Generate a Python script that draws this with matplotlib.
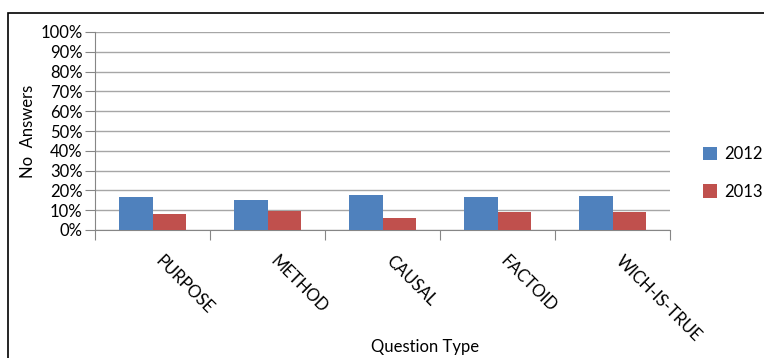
import numpy as np
import matplotlib.pyplot as plt
from matplotlib.patches import Rectangle

categories = ["PURPOSE", "METHOD", "CAUSAL", "FACTOID", "WICH-IS-TRUE"]
years = ["2012", "2013"]
values_2012 = [16.8, 15.3, 17.8, 16.8, 17.3]
values_2013 = [8.2, 9.7, 6.2, 9.2, 9.2]
yticks = [0, 10, 20, 30, 40, 50, 60, 70, 80, 90, 100]

plt.rcParams['font.family'] = ['Lato', 'DejaVu Sans']

fig = plt.figure(figsize=(7.64, 3.58), dpi=100)
ax = fig.add_axes([95 / 764, 1 - 230 / 358, 575 / 764, 198 / 358])

x = np.arange(len(categories))
w = 0.287
b1 = ax.bar(x - w / 2, values_2012, w, color='#4f81bd', label=years[0], zorder=3)
b2 = ax.bar(x + w / 2, values_2013, w, color='#c0504d', label=years[1], zorder=3)

ax.set_xlim(-0.5, len(categories) - 0.5)
ax.set_ylim(0, 100)
ax.set_yticks(yticks)
ax.set_yticklabels([f"{t}%" for t in yticks], fontsize=12)
ax.yaxis.grid(True, color='#a6a6a6', linewidth=1, zorder=0)

ax.set_xticks(np.arange(len(categories) + 1) - 0.5)
ax.set_xticklabels([])
ax.tick_params(axis='x', length=7, color='#868686', direction='out')
ax.tick_params(axis='y', length=7, color='#868686', direction='out', pad=2)

for i, c in enumerate(categories):
    ax.annotate(c, xy=(i, 0), xycoords='data', xytext=(6, -28),
                textcoords='offset pixels', rotation=-45,
                rotation_mode='anchor', ha='left', va='center', fontsize=12)

for s in ['top', 'right']:
    ax.spines[s].set_visible(False)
ax.spines['left'].set_color('#868686')
ax.spines['bottom'].set_color('#868686')

ax.set_ylabel('No  Answers', fontsize=12, labelpad=3)
fig.text(425 / 764, 1 - 347 / 358, 'Question Type', ha='center', va='center', fontsize=12)

# legend nudged left a little so the labels stay inside the image
fig.legend(handles=[b1, b2], loc='upper left', bbox_to_anchor=(703 / 764, 1 - 146 / 358),
           frameon=False, fontsize=12, handlelength=0.85, handleheight=0.85,
           handletextpad=0.4, labelspacing=1.3, borderaxespad=0, borderpad=0)

fig.patches.append(Rectangle((8 / 764, -0.1), 1.2, 1 - 13 / 358 + 0.1,
                             transform=fig.transFigure, fill=False,
                             edgecolor='black', linewidth=1.2))

fig.savefig('out.png', dpi=100)
